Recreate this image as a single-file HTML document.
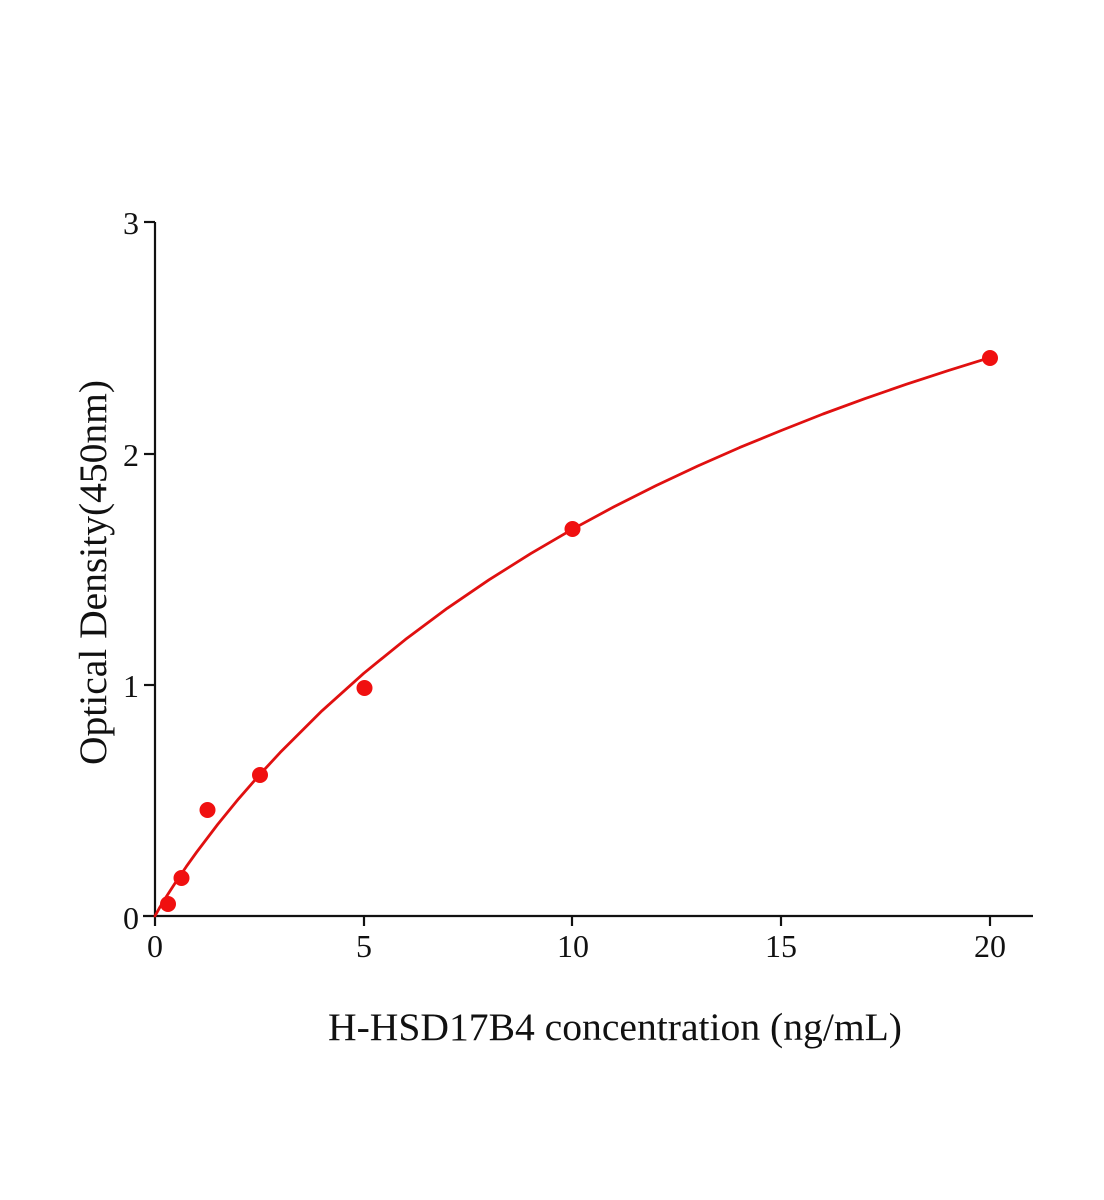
<!DOCTYPE html>
<html>
<head>
<meta charset="utf-8">
<style>
  html, body { margin: 0; padding: 0; background: #ffffff; }
  svg { display: block; }
  text { font-family: "Liberation Serif", "Times New Roman", serif; fill: #111; }
</style>
</head>
<body>
<svg width="1104" height="1200" viewBox="0 0 1104 1200" xmlns="http://www.w3.org/2000/svg">
  <rect x="0" y="0" width="1104" height="1200" fill="#ffffff"/>

  <!-- axes -->
  <g stroke="#111" stroke-width="2.2" fill="none">
    <line x1="155" y1="222" x2="155" y2="917"/>
    <line x1="143" y1="916" x2="1033" y2="916"/>
    <!-- y ticks -->
    <line x1="144" y1="222" x2="155" y2="222"/>
    <line x1="144" y1="454" x2="155" y2="454"/>
    <line x1="144" y1="685" x2="155" y2="685"/>
    <!-- x ticks -->
    <line x1="155" y1="916" x2="155" y2="926"/>
    <line x1="364" y1="916" x2="364" y2="926"/>
    <line x1="572" y1="916" x2="572" y2="926"/>
    <line x1="781" y1="916" x2="781" y2="926"/>
    <line x1="990" y1="916" x2="990" y2="926"/>
  </g>

  <!-- y tick labels -->
  <g font-size="32" text-anchor="end">
    <text x="139" y="234">3</text>
    <text x="139" y="466">2</text>
    <text x="139" y="697">1</text>
    <text x="139" y="929">0</text>
  </g>

  <!-- x tick labels -->
  <g font-size="32" text-anchor="middle">
    <text x="155" y="957">0</text>
    <text x="364" y="957">5</text>
    <text x="573" y="957">10</text>
    <text x="781" y="957">15</text>
    <text x="990" y="957">20</text>
  </g>

  <!-- axis titles -->
  <text x="328" y="1040" font-size="39" textLength="574" lengthAdjust="spacingAndGlyphs">H-HSD17B4 concentration (ng/mL)</text>
  <text transform="translate(106,765) rotate(-90)" x="0" y="0" font-size="39" textLength="385" lengthAdjust="spacingAndGlyphs">Optical Density(450nm)</text>

  <!-- fitted curve -->
  <polyline fill="none" stroke="#e01010" stroke-width="2.8" stroke-linejoin="round" stroke-linecap="round"
    points="155,916 159.2,908.4 165.4,898.1 175.9,881.9 186.3,866.6 196.75,852.0 217.6,824.5 238.5,798.9 259.4,775.0 280.25,752.4 322,710.8 363.75,673.3 405.5,639.4 447.25,608.3 489,579.8 530.75,553.6 572.5,529.2 614.25,506.6 656,485.6 697.75,466.0 739.5,447.6 781.25,430.5 823,414.0 864.75,398.7 906.5,384.2 948.25,370.6 990,357.6"/>

  <!-- data points -->
  <g fill="#f01010">
    <circle cx="168" cy="904" r="8"/>
    <circle cx="181.5" cy="878" r="8"/>
    <circle cx="207.5" cy="810" r="8"/>
    <circle cx="260" cy="775" r="8"/>
    <circle cx="364.5" cy="688" r="8"/>
    <circle cx="572.5" cy="529" r="8"/>
    <circle cx="990" cy="358" r="8"/>
  </g>
</svg>
</body>
</html>
